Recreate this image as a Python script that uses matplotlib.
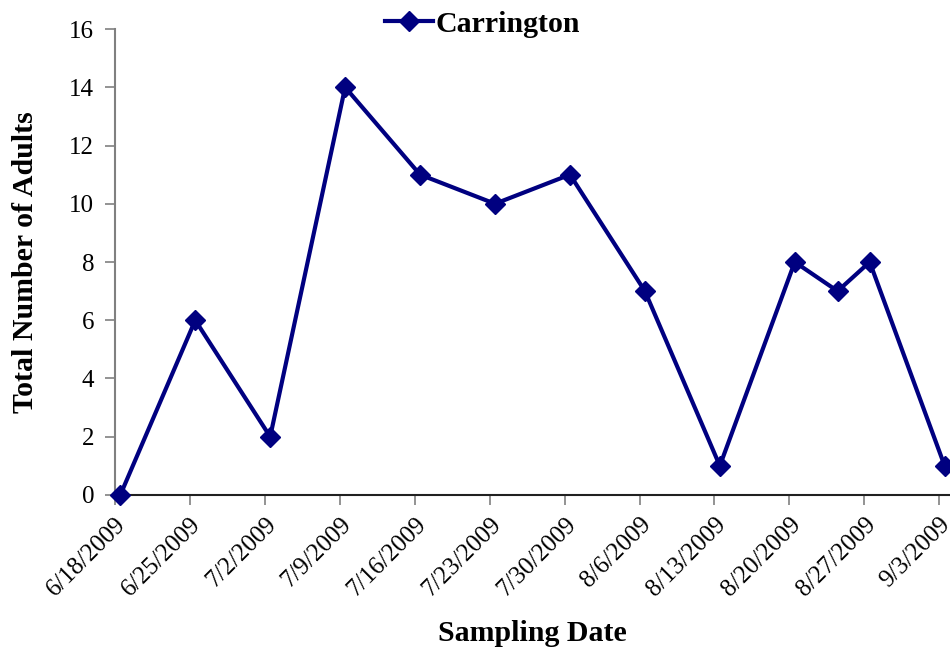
import numpy as np
import matplotlib
matplotlib.use("Agg")
import matplotlib.pyplot as plt
from datetime import datetime, timedelta

plt.rcParams['font.family'] = ['Liberation Serif', 'DejaVu Serif']

# sampling dates and adult counts
dates = ["6/18/2009", "6/25/2009", "7/2/2009", "7/9/2009", "7/16/2009", "7/23/2009",
         "7/30/2009", "8/6/2009", "8/13/2009", "8/20/2009", "8/24/2009", "8/27/2009",
         "9/3/2009"]
adults = [0, 6, 2, 14, 11, 10, 11, 7, 1, 8, 7, 8, 1]
tick_dates = ["6/18/2009", "6/25/2009", "7/2/2009", "7/9/2009", "7/16/2009", "7/23/2009",
              "7/30/2009", "8/6/2009", "8/13/2009", "8/20/2009", "8/27/2009", "9/3/2009"]

def parse(s):
    return datetime.strptime(s, "%m/%d/%Y")

# points sit in the middle of their day, ticks at the day boundary
x = [parse(d) + timedelta(hours=12) for d in dates]
ticks = [parse(d) for d in tick_dates]

fig = plt.figure(figsize=(9.5, 6.49), dpi=100)
ax = fig.add_axes([0.121, 0.2373, 0.879, 0.718])

ax.plot(x, adults, color="#000080", lw=3.0, marker="D", ms=10.5,
        label="Carrington", clip_on=False, zorder=5)

ax.set_ylim(0, 16)
ax.set_yticks(range(0, 17, 2))
ax.set_xlim(ticks[0], parse("9/4/2009"))
ax.set_xticks(ticks)
ax.set_xticklabels(tick_dates, rotation=45, ha="right", rotation_mode="anchor")
ax.tick_params(axis="both", labelsize=18, direction="out", length=7,
               width=1.2, color="#808080")
ax.tick_params(axis="x", pad=6)
ax.tick_params(axis="y", pad=8)

for side in ("top", "right"):
    ax.spines[side].set_visible(False)
ax.spines["left"].set_color("#808080")
ax.spines["left"].set_linewidth(1.5)
ax.spines["bottom"].set_color("#202020")
ax.spines["bottom"].set_linewidth(1.5)

ax.set_ylabel("Total Number of Adults", fontsize=21.5, fontweight="bold", labelpad=22)
ax.set_xlabel("Sampling Date", fontsize=21.5, fontweight="bold", labelpad=14)

leg = ax.legend(loc="upper center", bbox_to_anchor=(0.44, 1.065), frameon=False,
                prop={"size": 21.5, "weight": "bold"}, handlelength=1.6,
                handletextpad=0.1, borderaxespad=0)

fig.savefig("out.png", dpi=100)
